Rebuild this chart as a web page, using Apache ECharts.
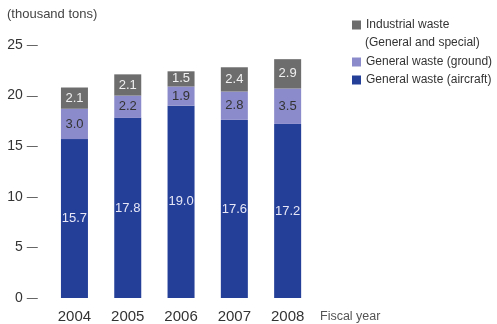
<!DOCTYPE html>
<html lang="en" style="height: 100%;margin: 0;">
<head>
    <meta charset="UTF-8">
    <title>waste chart</title>
</head>
<body style="height: 100%;margin: 0;background:#fff;">
<div id="chart" style="width: 497px;height: 324px;margin: 0;"></div>
<script src="https://cdn.jsdelivr.net/npm/echarts@6/dist/echarts.min.js"></script>
<script>
    var years = ['2004', '2005', '2006', '2007', '2008'];
    var aircraft = [15.7, 17.8, 19.0, 17.6, 17.2];
    var ground = [3.0, 2.2, 1.9, 2.8, 3.5];
    var industrial = [2.1, 2.1, 1.5, 2.4, 2.9];
    var names = ['General waste (aircraft)', 'General waste (ground)', 'Industrial waste'];

    var font = '"Liberation Sans", Arial, sans-serif';
    var myChart = echarts.init(document.getElementById('chart'), null, {renderer: 'canvas'});

    function seg(name, data, color, labelColor) {
        return {
            name: name,
            type: 'bar',
            stack: 'total',
            barWidth: 27,
            data: data,
            itemStyle: {color: color},
            label: {
                show: true,
                position: 'inside',
                color: labelColor,
                fontFamily: font,
                fontSize: 13,
                formatter: function (p) { return p.value.toFixed(1); }
            }
        };
    }

    var option = {
        animation: false,
        grid: {left: 47.8, right: 182.7, top: 45, bottom: 26},
        legend: [{
            orient: 'vertical',
            left: 352,
            top: 16,
            padding: 0,
            itemWidth: 9,
            itemHeight: 9,
            itemGap: 0,
            icon: 'rect',
            data: [names[2]],
            textStyle: {fontFamily: font, fontSize: 12, color: '#333', lineHeight: 18}
        }, {
            orient: 'vertical',
            left: 352,
            top: 53,
            padding: 0,
            itemWidth: 9,
            itemHeight: 9,
            itemGap: 0,
            icon: 'rect',
            data: [names[1], names[0]],
            textStyle: {fontFamily: font, fontSize: 12, color: '#333', lineHeight: 18}
        }],
        graphic: [{
            type: 'text',
            left: 365,
            top: 37,
            style: {text: '(General and special)', fill: '#333', font: '12px ' + font}
        }, {
            type: 'text',
            left: 320,
            top: 310,
            style: {text: 'Fiscal year', fill: '#555', font: '12.5px ' + font}
        }, {
            type: 'text',
            left: 7,
            top: 8,
            style: {text: '(thousand tons)', fill: '#444', font: '13px ' + font}
        }],
        xAxis: {
            type: 'category',
            data: years,
            axisLine: {show: false},
            axisTick: {show: false},
            axisLabel: {color: '#333', fontFamily: font, fontSize: 15, margin: 11}
        },
        yAxis: {
            type: 'value',
            min: 0,
            max: 25,
            interval: 5,
            splitLine: {show: false},
            axisLine: {show: false},
            axisTick: {show: false},
            axisLabel: {
                color: '#333', fontFamily: font, fontSize: 14, margin: 10,
                formatter: function (v) { return v + ' {d|\u2014}'; },
                rich: {d: {fontSize: 11, color: '#333', fontFamily: font}}
            }
        },
        series: [
            seg(names[0], aircraft, '#233f98', '#e6e6f6'),
            seg(names[1], ground, '#8b8bcb', '#333'),
            seg(names[2], industrial, '#6d6d6d', '#f0f0f0')
        ]
    };
    myChart.setOption(option, true);
</script>
</body>
</html>
